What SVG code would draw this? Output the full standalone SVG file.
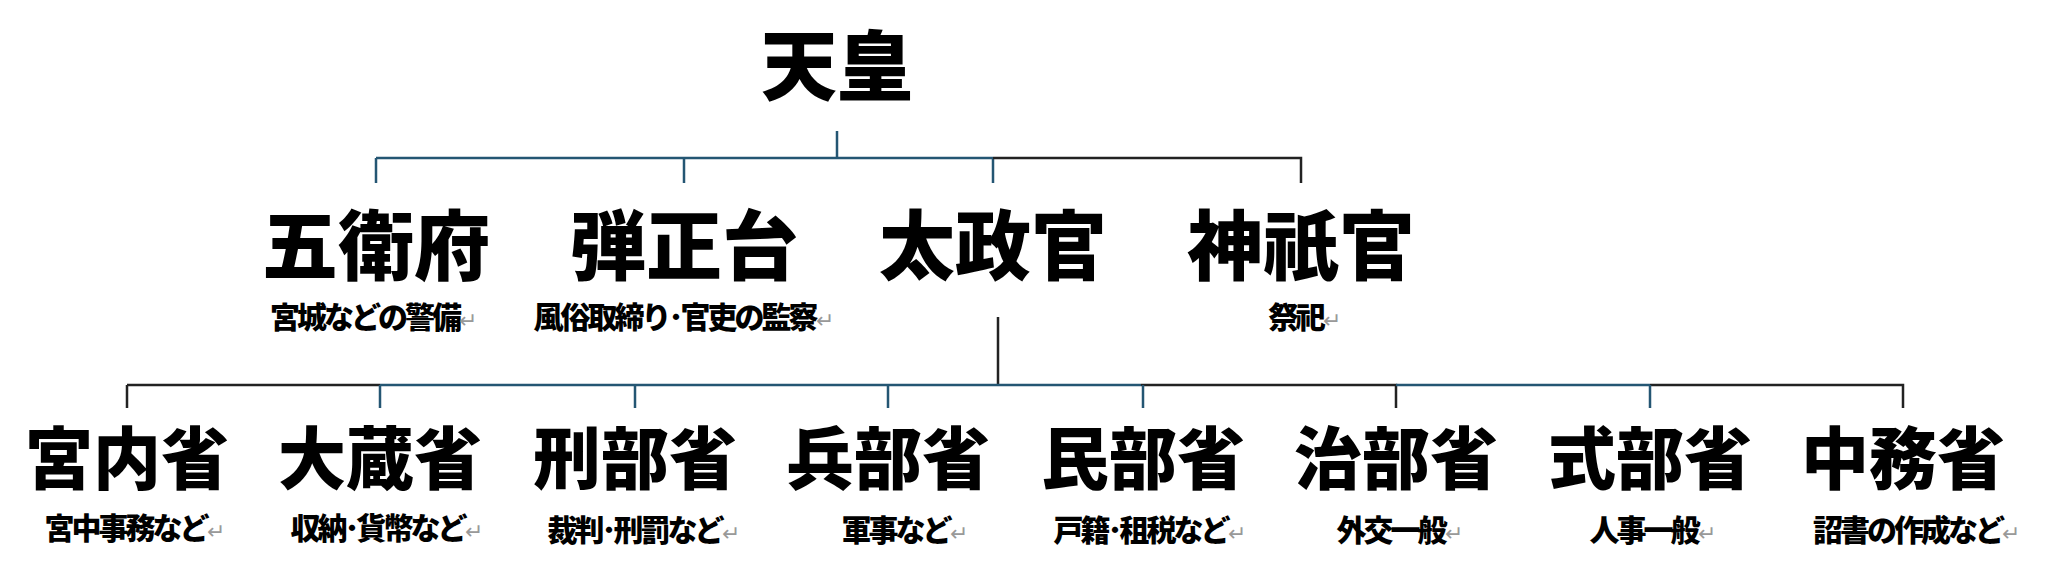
<svg xmlns="http://www.w3.org/2000/svg" width="2048" height="583" viewBox="0 0 2048 583">
<style>
text{font-family:"Noto Sans CJK JP","Noto Sans CJK SC",sans-serif;font-weight:900;fill:#000;text-anchor:middle}
.t{font-size:76px}
.m{font-size:68px}
.s{font-size:30px;letter-spacing:-3px}
.r{fill:#999;font-weight:400;font-size:22px}
.b{stroke:#245673;stroke-width:2.5;fill:none}
.k{stroke:#222;stroke-width:2.5;fill:none}
</style>
<rect width="2048" height="583" fill="#fff"/>
<g id="connectors">
<path class="b" d="M837 131V158M376 158H993M376 158V183M684 158V183M993 158V183"/>
<path class="k" d="M993 158H1301V183"/>
<path class="k" d="M998 317V385M127 385H380M127 385V408M1141 385H1396V408M1650 385H1903V408"/>
<path class="b" d="M380 385H1141M1396 385H1650M380 385V408M635 385V408M888 385V408M1143 385V408M1650 385V408"/>
</g>
<g id="n-tenno"><text class="t" x="837" y="94">天皇</text></g>
<g id="n-goeifu"><text class="t" x="376" y="274">五衛府</text><text class="s" x="372" y="328">宮城などの警備<tspan class="r">↵</tspan></text></g>
<g id="n-danjodai"><text class="t" x="684" y="274">弾正台</text><text class="s" x="682" y="328">風俗取締り･官吏の監察<tspan class="r">↵</tspan></text></g>
<g id="n-dajokan"><text class="t" x="993" y="274">太政官</text></g>
<g id="n-jingikan"><text class="t" x="1301" y="274">神祇官</text><text class="s" x="1303" y="328">祭祀<tspan class="r">↵</tspan></text></g>
<g id="n-kunai"><text class="m" x="127" y="484">宮内省</text><text class="s" x="133" y="539">宮中事務など<tspan class="r">↵</tspan></text></g>
<g id="n-okura"><text class="m" x="380" y="484">大蔵省</text><text class="s" x="385" y="539">収納･貨幣など<tspan class="r">↵</tspan></text></g>
<g id="n-gyobu"><text class="m" x="635" y="484">刑部省</text><text class="s" x="642" y="541">裁判･刑罰など<tspan class="r">↵</tspan></text></g>
<g id="n-hyobu"><text class="m" x="888" y="484">兵部省</text><text class="s" x="903" y="541">軍事など<tspan class="r">↵</tspan></text></g>
<g id="n-minbu"><text class="m" x="1143" y="484">民部省</text><text class="s" x="1148" y="541">戸籍･租税など<tspan class="r">↵</tspan></text></g>
<g id="n-jibu"><text class="m" x="1396" y="484">治部省</text><text class="s" x="1398" y="541">外交一般<tspan class="r">↵</tspan></text></g>
<g id="n-shikibu"><text class="m" x="1650" y="484">式部省</text><text class="s" x="1651" y="541">人事一般<tspan class="r">↵</tspan></text></g>
<g id="n-nakatsukasa"><text class="m" x="1903" y="484">中務省</text><text class="s" x="1915" y="541">詔書の作成など<tspan class="r">↵</tspan></text></g>
</svg>
